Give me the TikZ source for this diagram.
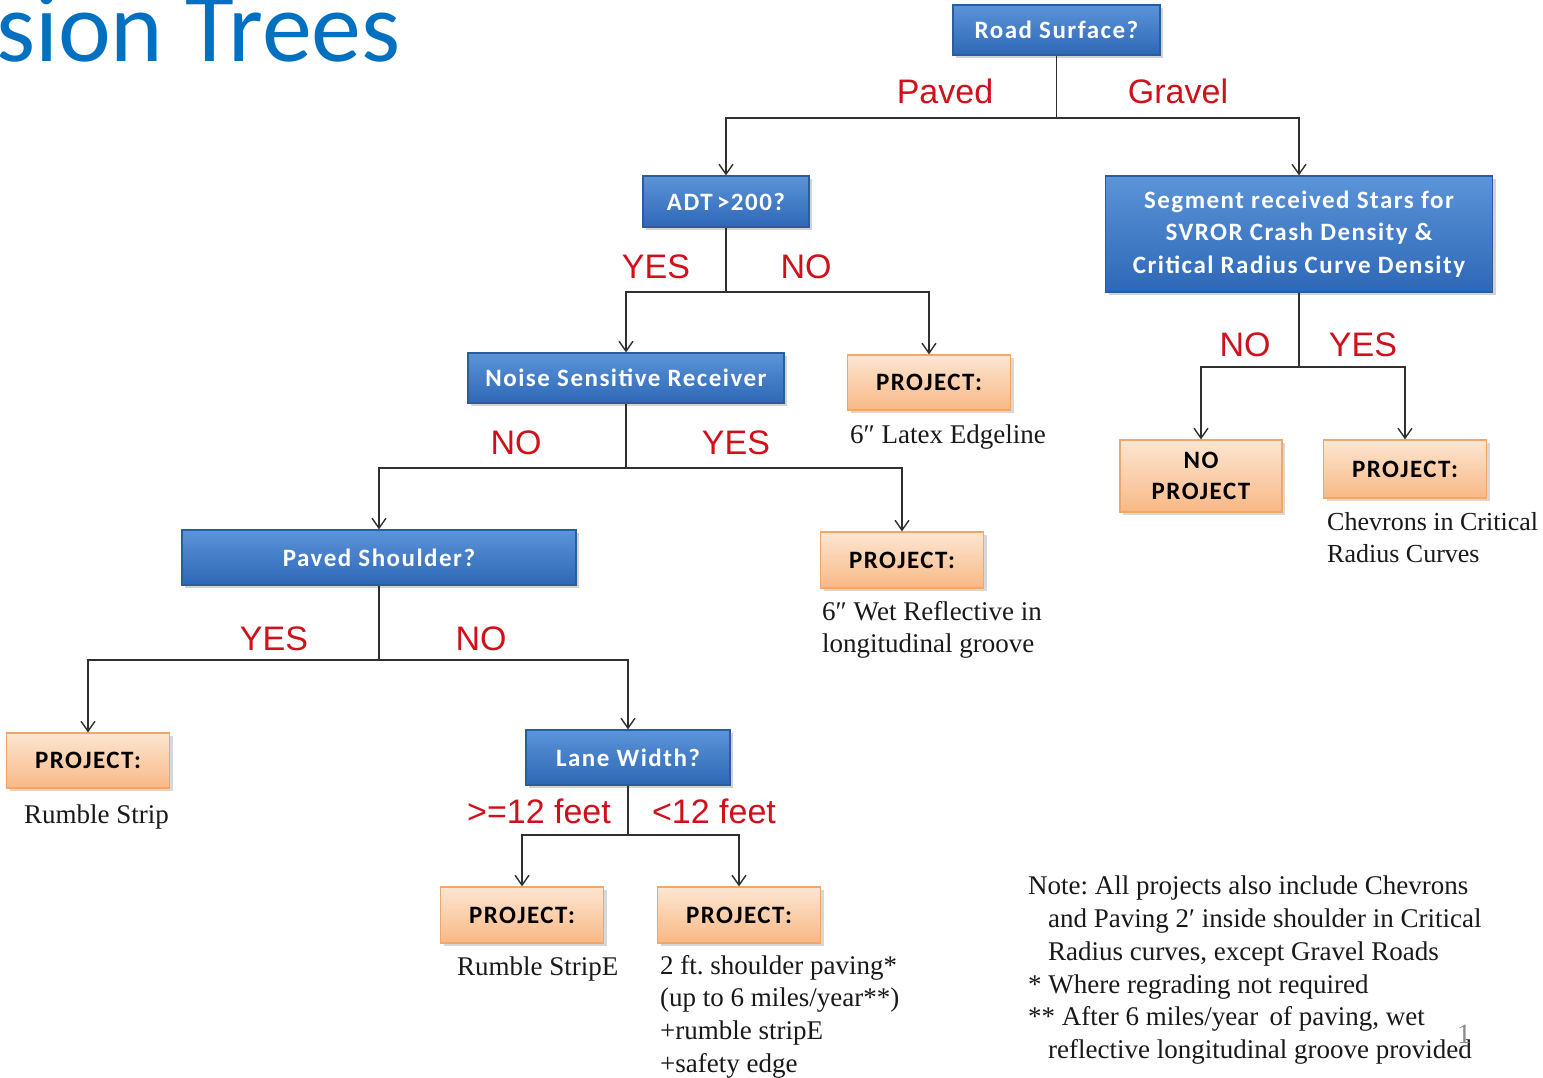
\documentclass[tikz,border=0pt]{standalone}
\usepackage{fontspec}
\setmainfont{Liberation Serif}
\newfontfamily\calfont{Carlito}
\newfontfamily\calsp[LetterSpace=6]{Carlito}
\newfontfamily\arifont{Liberation Sans}
\usetikzlibrary{arrows.meta,shadows}
\frenchspacing
\definecolor{titleblue}{HTML}{0070C0}
\definecolor{bluetop}{HTML}{5B94D8}
\definecolor{bluebot}{HTML}{2E67B6}
\definecolor{blueedge}{HTML}{2B5C9E}
\definecolor{orgtop}{HTML}{FDE6D2}
\definecolor{orgbot}{HTML}{F8B885}
\definecolor{orgedge}{HTML}{F2A76A}
\definecolor{lblred}{HTML}{D0101A}
\definecolor{linegray}{HTML}{303030}
\tikzset{
  qbox/.style={rectangle, draw=blueedge, line width=1.2pt, top color=bluetop, bottom color=bluebot,
    text=white, font=\calsp\bfseries\fontsize{25}{32.5}\selectfont, align=center, inner sep=0pt,
    drop shadow={shadow xshift=3pt, shadow yshift=-3pt, opacity=0.35}},
  pbox/.style={rectangle, draw=orgedge, line width=1.2pt, top color=orgtop, bottom color=orgbot,
    text=black, font=\calsp\bfseries\fontsize{25}{31}\selectfont, align=center, inner sep=0pt,
    minimum width=163pt, drop shadow={shadow xshift=3pt, shadow yshift=-3pt, opacity=0.3}},
  lbl/.style={text=lblred, font=\arifont\fontsize{34}{40}\selectfont, inner sep=0pt},
  desc/.style={anchor=north west, align=left, inner sep=0pt, text=black!90,
    font=\fontsize{27}{32.7}\selectfont},
  conn/.style={draw=linegray, line width=1.8pt},
  arr/.style={draw=linegray, line width=1.8pt, -{Straight Barb[length=10pt,width=14pt,line width=1.4pt]}}
}
\begin{document}
\begin{tikzpicture}[x=1pt,y=-1pt]
\useasboundingbox (0,0) rectangle (1543,1077);
\fill[white] (0,0) rectangle (1543,1077);

% title
\node (title) [anchor=base west, inner sep=0pt, text=titleblue, font=\calfont\fontsize{100}{100}\selectfont] at (-4,61) {sion Trees};

% decision boxes
\node (rs)  [qbox, minimum width=207pt, minimum height=50pt] at (1056.5,30) {Road Surface?};
\node (adt) [qbox, minimum width=166pt, minimum height=51pt] at (726,201.5) {ADT\,>200?};
\node (seg) [qbox, minimum width=387pt, minimum height=116pt] at (1299,234) {Segment received Stars for\\SVROR Crash Density \&\\Critical Radius Curve Density};
\node (nsr) [qbox, minimum width=316pt, minimum height=50pt] at (626,378) {Noise Sensitive Receiver};
\node (ps)  [qbox, minimum width=394pt, minimum height=55pt] at (379,557.5) {Paved Shoulder?};
\node (lw)  [qbox, minimum width=204pt, minimum height=55pt] at (628,757.5) {Lane Width?};

% project boxes
\node (p1) [pbox, minimum height=55pt] at (929,382.5) {PROJECT:};
\node (np) [pbox, minimum width=162pt, minimum height=72pt] at (1201,476) {NO\\PROJECT};
\node (p2) [pbox, minimum height=58pt] at (1405,469) {PROJECT:};
\node (p3) [pbox, minimum height=56pt] at (902,560) {PROJECT:};
\node (p4) [pbox, minimum height=55pt] at (88,760.5) {PROJECT:};
\node (p5) [pbox, minimum height=56pt] at (522,915) {PROJECT:};
\node (p6) [pbox, minimum height=56pt] at (739,915) {PROJECT:};

% descriptions
\node (d1) [desc] at (850,425) {6\char"2033\ Latex Edgeline};
\node (d2) [desc, font=\fontsize{26}{32.7}\selectfont] at (1327,512) {Chevrons in Critical\\Radius Curves};
\node (d3) [desc] at (822,601) {6\char"2033\ Wet Reflective in\\longitudinal groove};
\node (d4) [desc] at (24,805) {Rumble Strip};
\node (d5) [desc] at (457,957) {Rumble StripE};
\node (d6) [desc] at (660,955) {2 ft. shoulder paving*\\(up to 6 miles/year**)\\+rumble stripE\\+safety edge};
\node (note) [desc] at (1028,876) {Note: All projects also include Chevrons\\\hspace*{20pt}and Paving 2\char"2032\ inside shoulder in Critical\\\hspace*{20pt}Radius curves, except Gravel Roads\\* Where regrading not required\\** After 6 miles/year\, of paving, wet\\\hspace*{20pt}reflective longitudinal groove provided};
\node (pg) [inner sep=0pt, text=black!45, font=\fontsize{28}{28}\selectfont] at (1464,1034) {1};

% junctions
\coordinate (j1) at (1056.5,118);
\coordinate (j2) at (726,292);
\coordinate (j3) at (1299,367);
\coordinate (j4) at (626,468);
\coordinate (j5) at (379,660);
\coordinate (j6) at (628,835);

% connectors
\draw[conn] (rs.south) -- (j1);
\draw[arr] (j1) -| (adt.north);
\draw[arr] (j1) -| (seg.north);
\draw[conn] (adt.south) -- (j2);
\draw[arr] (j2) -| (nsr.north);
\draw[arr] (j2) -| (p1.north);
\draw[conn] (seg.south) -- (j3);
\draw[arr] (j3) -| (np.north);
\draw[arr] (j3) -| (p2.north);
\draw[conn] (nsr.south) -- (j4);
\draw[arr] (j4) -| (ps.north);
\draw[arr] (j4) -| (p3.north);
\draw[conn] (ps.south) -- (j5);
\draw[arr] (j5) -| (p4.north);
\draw[arr] (j5) -| (lw.north);
\draw[conn] (lw.south) -- (j6);
\draw[arr] (j6) -| (p5.north);
\draw[arr] (j6) -| (p6.north);

% branch labels
\node (l1)  [lbl] at (945,91) {Paved};
\node (l2)  [lbl] at (1178,91) {Gravel};
\node (l3)  [lbl] at (656,267) {YES};
\node (l4)  [lbl] at (806,267) {NO};
\node (l5)  [lbl] at (1245,345) {NO};
\node (l6)  [lbl] at (1363,345) {YES};
\node (l7)  [lbl] at (516,443) {NO};
\node (l8)  [lbl] at (736,443) {YES};
\node (l9)  [lbl] at (274,639) {YES};
\node (l10) [lbl] at (481,639) {NO};
\node (l11) [lbl] at (539,811) {>=12 feet};
\node (l12) [lbl] at (714,811) {<12 feet};
\end{tikzpicture}
\end{document}
